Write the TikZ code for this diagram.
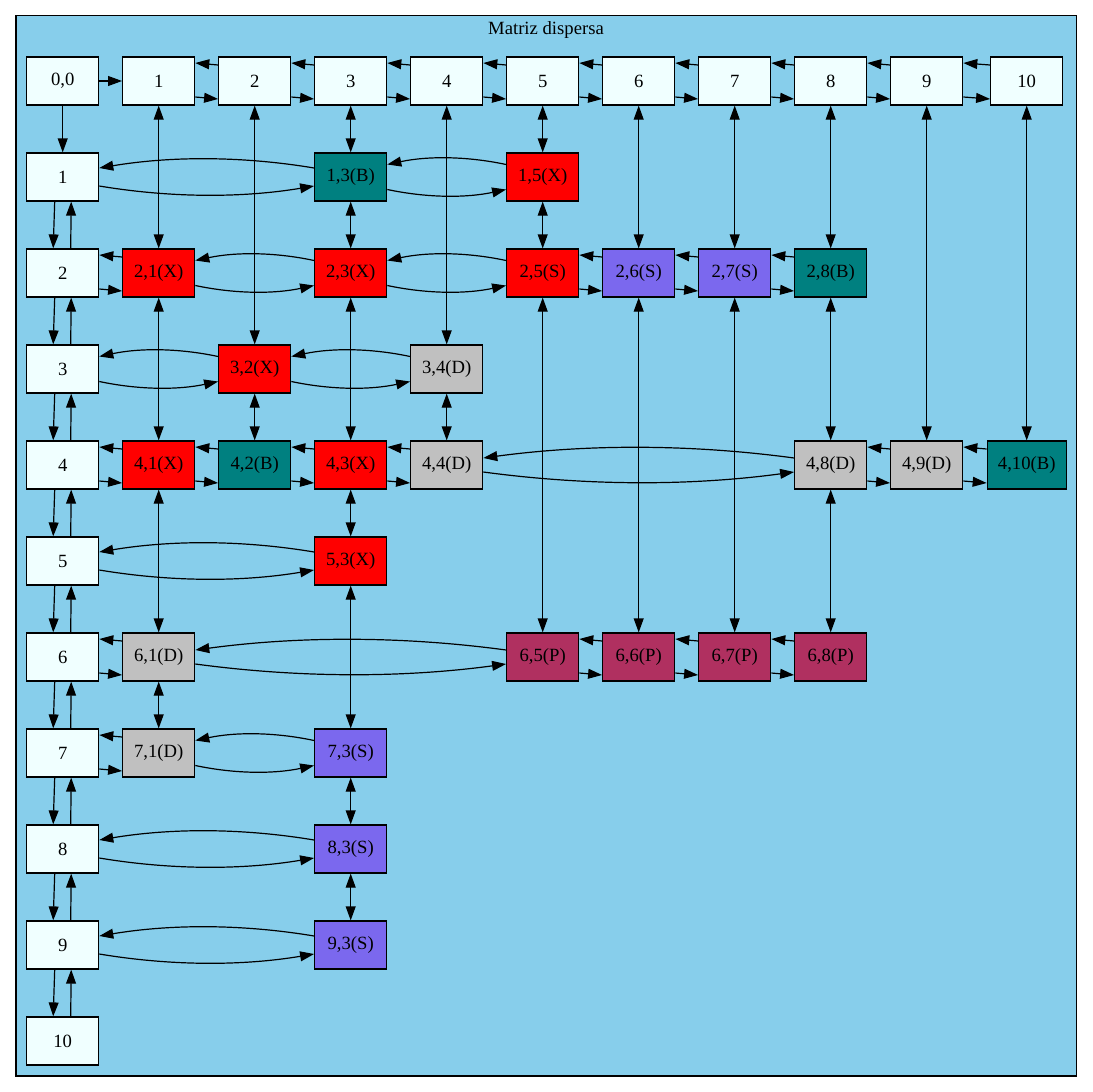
\documentclass[tikz,border=0pt]{standalone}
\usepackage{fontspec}
\setmainfont{Liberation Serif}
\usetikzlibrary{arrows.meta,calc}
\definecolor{skyb}{HTML}{87CEEB}
\definecolor{azu}{HTML}{F0FFFF}
\definecolor{tealc}{HTML}{008080}
\definecolor{grayc}{HTML}{C0C0C0}
\definecolor{slatec}{HTML}{7B68EE}
\definecolor{maroc}{HTML}{B03060}
\definecolor{redc}{HTML}{FF0000}
\tikzset{
  cell/.style={draw=black, line width=0.9pt, minimum width=54pt, minimum height=36pt,
    inner xsep=8pt, inner ysep=0pt, font=\fontsize{14}{16}\selectfont},
  hdrcell/.style={cell, fill=azu},
  redcell/.style={cell, fill=redc},
  tealcell/.style={cell, fill=tealc},
  graycell/.style={cell, fill=grayc},
  slatecell/.style={cell, fill=slatec},
  maroncell/.style={cell, fill=maroc},
  arr/.style={-{Triangle[length=10.5pt,width=7.4pt]}, line width=0.9pt},
  darr/.style={{Triangle[length=10.5pt,width=7.4pt]}-{Triangle[length=10.5pt,width=7.4pt]}, line width=0.9pt},
}
% adjacent horizontal pair: #1 left, #2 right
\newcommand\hpair[2]{%
  \draw[arr] ($(#2.west)+(0,-16)$) -- ($(#1.east)+(0,-18)$);
  \draw[arr] ($(#1.east)+(0,16)$) -- ($(#2.west)+(0,18)$);
}
% curved horizontal pair: #1 left, #2 right, #3 end offset, #4 control offset, #5 control dx
\newcommand\cpair[5]{%
  \draw[arr] ($(#2.west)+(0,-#3)$) .. controls +(-#5,-#4) and +(#5,-#4) .. ($(#1.east)+(0,-#3)$);
  \draw[arr] ($(#1.east)+(0,#3)$) .. controls +(#5,#4) and +(-#5,#4) .. ($(#2.west)+(0,#3)$);
}
% vertical pair of row headers: #1 upper, #2 lower
\newcommand\vpair[2]{%
  \draw[arr] ($(#1.south)+(-8,0)$) -- ($(#2.north)+(-9.5,0)$);
  \draw[arr] ($(#2.north)+(8,0)$) -- ($(#1.south)+(8.5,0)$);
}
\begin{document}
\begin{tikzpicture}[x=0.75pt,y=-0.75pt]
\useasboundingbox (0,0) rectangle (1093,1092);
\fill[white] (0,0) rectangle (1093,1092);
\draw[fill=skyb, line width=0.9pt] (16,15.7) rectangle (1076.7,1076);
\node[font=\fontsize{14}{16}\selectfont] (title) at (546,30) {Matriz dispersa};

% headers
\node[hdrcell] (h0) at (62.7,81) {0,0};
\foreach \k/\x in {1/158.7,2/254.7,3/350.7,4/446.7,5/542.7,6/638.7,7/734.7,8/830.7,9/926.7,10/1026.7}
  \node[hdrcell] (h\k) at (\x,81) {\k};
\foreach \k/\y in {1/177,2/273,3/369,4/465,5/561,6/657,7/753,8/849,9/945,10/1041}
  \node[hdrcell] (r\k) at (62.7,\y) {\k};

% matrix cells
\node[tealcell]  (m13) at (350.7,177) {1,3(B)};
\node[redcell]   (m15) at (542.7,177) {1,5(X)};
\node[redcell]   (m21) at (158.7,273) {2,1(X)};
\node[redcell]   (m23) at (350.7,273) {2,3(X)};
\node[redcell]   (m25) at (542.7,273) {2,5(S)};
\node[slatecell] (m26) at (638.7,273) {2,6(S)};
\node[slatecell] (m27) at (734.7,273) {2,7(S)};
\node[tealcell]  (m28) at (830.7,273) {2,8(B)};
\node[redcell]   (m32) at (254.7,369) {3,2(X)};
\node[graycell]  (m34) at (446.7,369) {3,4(D)};
\node[redcell]   (m41) at (158.7,465) {4,1(X)};
\node[tealcell]  (m42) at (254.7,465) {4,2(B)};
\node[redcell]   (m43) at (350.7,465) {4,3(X)};
\node[graycell]  (m44) at (446.7,465) {4,4(D)};
\node[graycell]  (m48) at (830.7,465) {4,8(D)};
\node[graycell]  (m49) at (926.7,465) {4,9(D)};
\node[tealcell]  (m410) at (1026.7,465) {4,10(B)};
\node[redcell]   (m53) at (350.7,561) {5,3(X)};
\node[graycell]  (m61) at (158.7,657) {6,1(D)};
\node[maroncell] (m65) at (542.7,657) {6,5(P)};
\node[maroncell] (m66) at (638.7,657) {6,6(P)};
\node[maroncell] (m67) at (734.7,657) {6,7(P)};
\node[maroncell] (m68) at (830.7,657) {6,8(P)};
\node[graycell]  (m71) at (158.7,753) {7,1(D)};
\node[slatecell] (m73) at (350.7,753) {7,3(S)};
\node[slatecell] (m83) at (350.7,849) {8,3(S)};
\node[slatecell] (m93) at (350.7,945) {9,3(S)};

% header links
\draw[arr] (h0) -- (h1);
\draw[arr] (h0) -- (r1);
\foreach \a/\b in {1/2,2/3,3/4,4/5,5/6,6/7,7/8,8/9,9/10} {\hpair{h\a}{h\b}}
\foreach \a/\b in {1/2,2/3,3/4,4/5,5/6,6/7,7/8,8/9,9/10} {\vpair{r\a}{r\b}}

% row links
\cpair{r1}{m13}{9}{12}{72}
\cpair{m13}{m15}{12.5}{8.5}{40}
\hpair{r2}{m21}
\cpair{m21}{m23}{12.5}{8.5}{40}
\cpair{m23}{m25}{12.5}{8.5}{40}
\hpair{m25}{m26}
\hpair{m26}{m27}
\hpair{m27}{m28}
\cpair{r3}{m32}{12.5}{8.5}{40}
\cpair{m32}{m34}{12.5}{8.5}{40}
\hpair{r4}{m41}
\hpair{m41}{m42}
\hpair{m42}{m43}
\hpair{m43}{m44}
\cpair{m44}{m48}{7}{14}{104}
\hpair{m48}{m49}
\hpair{m49}{m410}
\cpair{r5}{m53}{9}{12}{72}
\hpair{r6}{m61}
\cpair{m61}{m65}{7}{14}{104}
\hpair{m65}{m66}
\hpair{m66}{m67}
\hpair{m67}{m68}
\hpair{r7}{m71}
\cpair{m71}{m73}{12.5}{8.5}{40}
\cpair{r8}{m83}{9}{12}{72}
\cpair{r9}{m93}{9}{12}{72}

% column links
\foreach \a/\b in {h1/m21,m21/m41,m41/m61,m61/m71,
                   h2/m32,m32/m42,
                   h3/m13,m13/m23,m23/m43,m43/m53,m53/m73,m73/m83,m83/m93,
                   h4/m34,m34/m44,
                   h5/m15,m15/m25,m25/m65,
                   h6/m26,m26/m66,
                   h7/m27,m27/m67,
                   h8/m28,m28/m48,m48/m68,
                   h9/m49,h10/m410}
  \draw[darr] (\a.south) -- (\b.north);
\end{tikzpicture}
\end{document}
